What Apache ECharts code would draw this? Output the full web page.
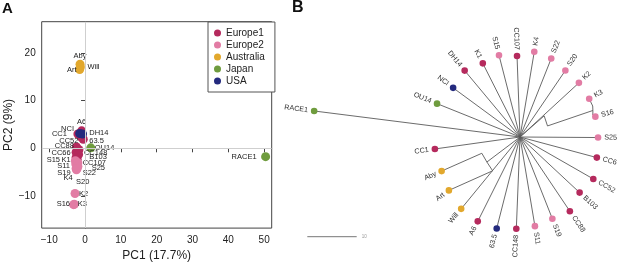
<!DOCTYPE html>
<html><head><meta charset="utf-8">
<script src="https://cdn.jsdelivr.net/npm/echarts@6/dist/echarts.min.js"></script>
<style>html,body{margin:0;padding:0;background:#fff}#c{width:617px;height:267px}</style>
</head><body><div id="c"></div>
<script>
// ---------------- DATA ----------------
const groups = ['Europe1', 'Europe2', 'Australia', 'Japan', 'USA'];

// Panel A: PCA scores
const europe1Names = ['A6', 'CC1', 'DH14', 'CC52', 'CC88', 'CC148', 'CC66', 'B103', 'K1', 'CC107'];
const europe1PC1 = [-0.95, -2.0, -0.5, -1.0, -2.4, -1.7, -2.5, -1.8, -2.5, -2.2];
const europe1PC2 = [3.65, 3.0, 1.9, 2.3, 0.3, -0.3, -0.8, -1.3, -1.9, -2.3];
const europe2Names = ['S15', 'S11', 'S25', 'S22', 'S19', 'K4', 'S20', 'K2', 'K3', 'S16'];
const europe2PC1 = [-2.7, -2.6, -2.0, -2.0, -2.5, -2.4, -2.2, -2.8, -3.0, -3.2];
const europe2PC2 = [-2.6, -3.3, -3.0, -3.8, -4.2, -4.5, -4.2, -9.45, -11.7, -11.8];
const australiaNames = ['Aby', 'Will', 'Art'];
const australiaPC1 = [-1.4, -1.3, -1.5];
const australiaPC2 = [17.6, 17.0, 16.5];
const japanNames = ['OU14', 'RACE1'];
const japanPC1 = [1.6, 50.4];
const japanPC2 = [0.1, -1.75];
const usaNames = ['NCI', '63.5'];
const usaPC1 = [-1.5, -0.7];
const usaPC2 = [3.1, 3.0];

const pc1Ticks = [-10, 0, 10, 20, 30, 40, 50];
const pc2Ticks = [-10, 0, 10, 20];

// Panel B: unrooted tree (distance from centre in tree units, direction in degrees)
const treeLeaves = ['RACE1', 'OU14', 'NCI', 'DH14', 'K1', 'S15', 'CC107', 'K4', 'S22', 'S20', 'K2', 'K3', 'S16', 'S25', 'CC66', 'CC52', 'B103', 'CC88', 'S19', 'S11', 'CC148', '63.5', 'A6', 'Will', 'Art', 'Aby', 'CC1'];
const leafGroup = ['Japan', 'Japan', 'USA', 'Europe1', 'Europe1', 'Europe2', 'Europe1', 'Europe2', 'Europe2', 'Europe2', 'Europe2', 'Europe2', 'Europe2', 'Europe2', 'Europe1', 'Europe1', 'Europe1', 'Europe1', 'Europe2', 'Europe2', 'Europe1', 'USA', 'Europe1', 'Australia', 'Australia', 'Australia', 'Europe1'];
const leafDist = [42.0, 18.1, 16.8, 17.5, 16.7, 17.1, 16.4, 17.5, 17.1, 16.3, 16.2, 16.0, 15.8, 15.8, 16.1, 17.1, 16.5, 18.1, 17.8, 18.3, 18.6, 19.1, 19.1, 18.8, 18.0, 17.3, 17.4];
const leafAngle = [172.8, 158.1, 143.7, 129.8, 116.8, 104.4, 92.1, 80.5, 68.3, 55.7, 42.6, 28.9, 15.1, 359.6, 345.0, 330.2, 317.0, 303.9, 291.6, 279.5, 267.7, 255.7, 243.4, 230.7, 216.9, 203.5, 188.0];
const leafParent = ['root', 'root', 'root', 'root', 'root', 'root', 'root', 'root', 'root', 'root', 'root', 'n3a', 'n3b', 'root', 'root', 'root', 'root', 'root', 'root', 'root', 'root', 'root', 'root', 'root', 'n1b', 'n1a', 'root'];
const treeNodes = ['n1', 'n1a', 'n1b', 'n2a', 'n2b', 'n3', 'n3a', 'n3b'];
const nodeDist = [8.4, 8.4, 8.8, 6.5, 6.0, 15.7, 16.0, 15.4];
const nodeAngle = [217.1, 203.1, 231.0, 41.2, 21.9, 20.0, 23.1, 16.8];
const nodeParent = ['root', 'n1', 'n1', 'root', 'n2a', 'n2b', 'n3', 'n3'];
const scaleBarValue = 10;

// ---------------- STYLE ----------------
const groupColors = { Europe1: '#b52a5d', Europe2: '#e27ca4', Australia: '#e2a82d', Japan: '#6f9c3e', USA: '#242a7e' };
const FONT = "'Liberation Sans Narrow', 'Liberation Sans', Arial, sans-serif";
const pcaLabelPlacement = {
  'Aby': ['center', 0, -8], 'Will': ['left', 7, 0], 'Art': ['right', -3, 0],
  'NCI': ['right', -5.7, -5], '63.5': ['left', 6.7, 6.7], 'A6': ['center', 0, -9],
  'CC1': ['right', -11, 0], 'DH14': ['left', 6, -6.4], 'CC52': ['right', -3, 3.3],
  'CC88': ['right', -2.5, -1], 'CC148': ['left', 5, 2.7], 'CC66': ['right', -5.4, 1.2],
  'B103': ['left', 10.7, 2.1], 'K1': ['right', -5.4, 2.4], 'CC107': ['left', 5.5, 3.7],
  'S15': ['right', -15.4, -1.1], 'S11': ['right', -5.7, 1.4], 'S25': ['left', 13.8, 5.2],
  'S22': ['left', 4.8, 6.9], 'S19': ['right', -5.4, 4.9], 'K4': ['right', -3.8, 8.4],
  'S20': ['left', -1.2, 13.6], 'K2': ['left', 4, 0], 'K3': ['left', 3.5, 0],
  'S16': ['right', -3.6, -0.5], 'OU14': ['left', 4, 0], 'RACE1': ['right', -9, 0]
};

// ---------------- BUILD ----------------
const pcaSets = {
  Europe1: [europe1Names, europe1PC1, europe1PC2],
  Europe2: [europe2Names, europe2PC1, europe2PC2],
  Australia: [australiaNames, australiaPC1, australiaPC2],
  Japan: [japanNames, japanPC1, japanPC2],
  USA: [usaNames, usaPC1, usaPC2]
};
const minus = v => String(v).replace('-', '\u2212');

const pcaSeries = groups.map(g => {
  const [names, xs, ys] = pcaSets[g];
  return {
    name: g, type: 'scatter', xAxisIndex: 0, yAxisIndex: 0, z: 3,
    symbol: 'circle', symbolSize: 9,
    itemStyle: { color: groupColors[g], opacity: 1 },
    label: {
      show: true, position: 'inside', formatter: '{b}', verticalAlign: 'middle',
      fontSize: 7.5, color: '#222', fontFamily: FONT
    },
    emphasis: { disabled: true },
    data: names.map((n, i) => {
      const p = pcaLabelPlacement[n];
      return { name: n, value: [xs[i], ys[i]], label: { align: p[0], offset: [p[1], p[2]] } };
    })
  };
});

// tree geometry lookups
const pos = { root: [0, 0] };
treeNodes.forEach((n, i) => { pos[n] = [nodeDist[i], nodeAngle[i]]; });
treeLeaves.forEach((n, i) => { pos['leaf:' + n] = [leafDist[i], leafAngle[i]]; });
const edges = [];
treeNodes.forEach((n, i) => { const a = pos[nodeParent[i]]; const b = pos[n]; edges.push([a[0], a[1], b[0], b[1]]); });
treeLeaves.forEach((n, i) => { const a = pos[leafParent[i]]; const b = pos['leaf:' + n]; edges.push([a[0], a[1], b[0], b[1]]); });

const treeEdgeSeries = {
  type: 'custom', coordinateSystem: 'polar', polarIndex: 0, z: 2, silent: true,
  encode: { radius: 0, angle: 1 },
  renderItem: (params, api) => {
    const p1 = api.coord([api.value(0), api.value(1)]);
    const p2 = api.coord([api.value(2), api.value(3)]);
    return { type: 'line', shape: { x1: p1[0], y1: p1[1], x2: p2[0], y2: p2[1] },
      style: { stroke: '#5a5a5a', lineWidth: 0.9 } };
  },
  data: edges
};

const treeLeafSeries = {
  type: 'custom', coordinateSystem: 'polar', polarIndex: 0, z: 4, silent: true,
  encode: { radius: 0, angle: 1 },
  renderItem: (params, api) => {
    const i = params.dataIndex;
    const r = api.value(0), a = api.value(1);
    const p = api.coord([r, a]);
    const q = api.coord([r + 1.25, a]);
    const right = (a < 90 || a > 270);
    const rot = right ? a : a - 180;
    return { type: 'group', children: [
      { type: 'circle', shape: { cx: p[0], cy: p[1], r: 3.3 }, style: { fill: groupColors[leafGroup[i]] } },
      { type: 'text', x: q[0], y: q[1], rotation: rot * Math.PI / 180,
        style: { text: treeLeaves[i], align: right ? 'left' : 'right', verticalAlign: 'middle',
          fontSize: 7.2, fontFamily: FONT, fill: '#333' } }
    ] };
  },
  data: treeLeaves.map((n, i) => [leafDist[i], leafAngle[i]])
};

const scaleBarSeries = {
  type: 'custom', coordinateSystem: 'polar', polarIndex: 0, z: 2, silent: true,
  renderItem: (params, api) => {
    const o = api.coord([0, 0]);
    const t = api.coord([scaleBarValue, 0]);
    const len = Math.hypot(t[0] - o[0], t[1] - o[1]);
    const x0 = 307.3, y0 = 236.7;
    return { type: 'group', children: [
      { type: 'line', shape: { x1: x0, y1: y0, x2: x0 + len, y2: y0 }, style: { stroke: '#777', lineWidth: 1 } },
      { type: 'text', x: x0 + len + 5, y: y0 + 0.5, style: { text: String(scaleBarValue), fontSize: 4.5, fill: '#999', align: 'left', verticalAlign: 'middle', fontFamily: FONT } }
    ] };
  },
  data: [[0, 0]]
};

const refLineSeries = {
  name: 'ref', type: 'scatter', xAxisIndex: 0, yAxisIndex: 0, z: 1, data: [], silent: true,
  markLine: {
    silent: true, symbol: 'none', animation: false, label: { show: false },
    lineStyle: { color: '#cfcfcf', type: 'solid', width: 1 },
    data: [{ xAxis: 0 }, { yAxis: 0 }]
  }
};

const axisCommon = {
  type: 'value',
  axisLine: { show: true, lineStyle: { color: '#444', width: 1 } },
  splitLine: { show: false },
  nameTextStyle: { fontSize: 12, color: '#222', fontFamily: FONT }
};

const chart = echarts.init(document.getElementById('c'), null, { renderer: 'canvas' });
chart.setOption({
  animation: false,
  backgroundColor: '#fff',
  textStyle: { fontFamily: FONT },
  title: [
    { text: 'A', left: 2, top: 1, padding: 0, textStyle: { fontSize: 15, fontWeight: 'bold', color: '#111', fontFamily: "'Liberation Sans', Arial, sans-serif" } },
    { text: 'B', left: 292, top: 0, padding: 0, textStyle: { fontSize: 16, fontWeight: 'bold', color: '#111', fontFamily: "'Liberation Sans', Arial, sans-serif" } }
  ],
  legend: {
    data: groups, orient: 'vertical', left: 208, top: 22,
    padding: [5, 10, 5, 6], itemGap: 0, itemWidth: 7, itemHeight: 7, icon: 'circle',
    borderColor: '#555', borderWidth: 1, backgroundColor: '#fff',
    textStyle: { fontSize: 10, color: '#222', lineHeight: 12, fontFamily: FONT },
    selectedMode: false
  },
  grid: { left: 41.7, top: 21.7, width: 230, height: 214.3, show: true, borderColor: '#444', borderWidth: 1, backgroundColor: 'transparent' },
  xAxis: Object.assign({}, axisCommon, {
    min: -12.1, max: 52.1,
    name: 'PC1 (17.7%)', nameLocation: 'middle', nameGap: 17,
    axisTick: { show: true, length: 4, customValues: pc1Ticks, lineStyle: { color: '#444' } },
    axisLabel: { customValues: pc1Ticks, fontSize: 10, color: '#222', margin: 7, formatter: minus }
  }),
  yAxis: Object.assign({}, axisCommon, {
    min: -16.7, max: 26.5,
    name: 'PC2 (9%)', nameLocation: 'middle', nameGap: 25,
    axisTick: { show: true, length: 4, customValues: pc2Ticks, lineStyle: { color: '#444' } },
    axisLabel: { customValues: pc2Ticks, fontSize: 10, color: '#222', margin: 6, formatter: minus }
  }),
  polar: { center: [520, 137], radius: 222.3 },
  angleAxis: { type: 'value', min: 0, max: 360, startAngle: 0, clockwise: false, show: false },
  radiusAxis: { type: 'value', min: 0, max: 45, show: false },
  series: [refLineSeries].concat(pcaSeries, [treeEdgeSeries, scaleBarSeries, treeLeafSeries])
});
</script></body></html>
